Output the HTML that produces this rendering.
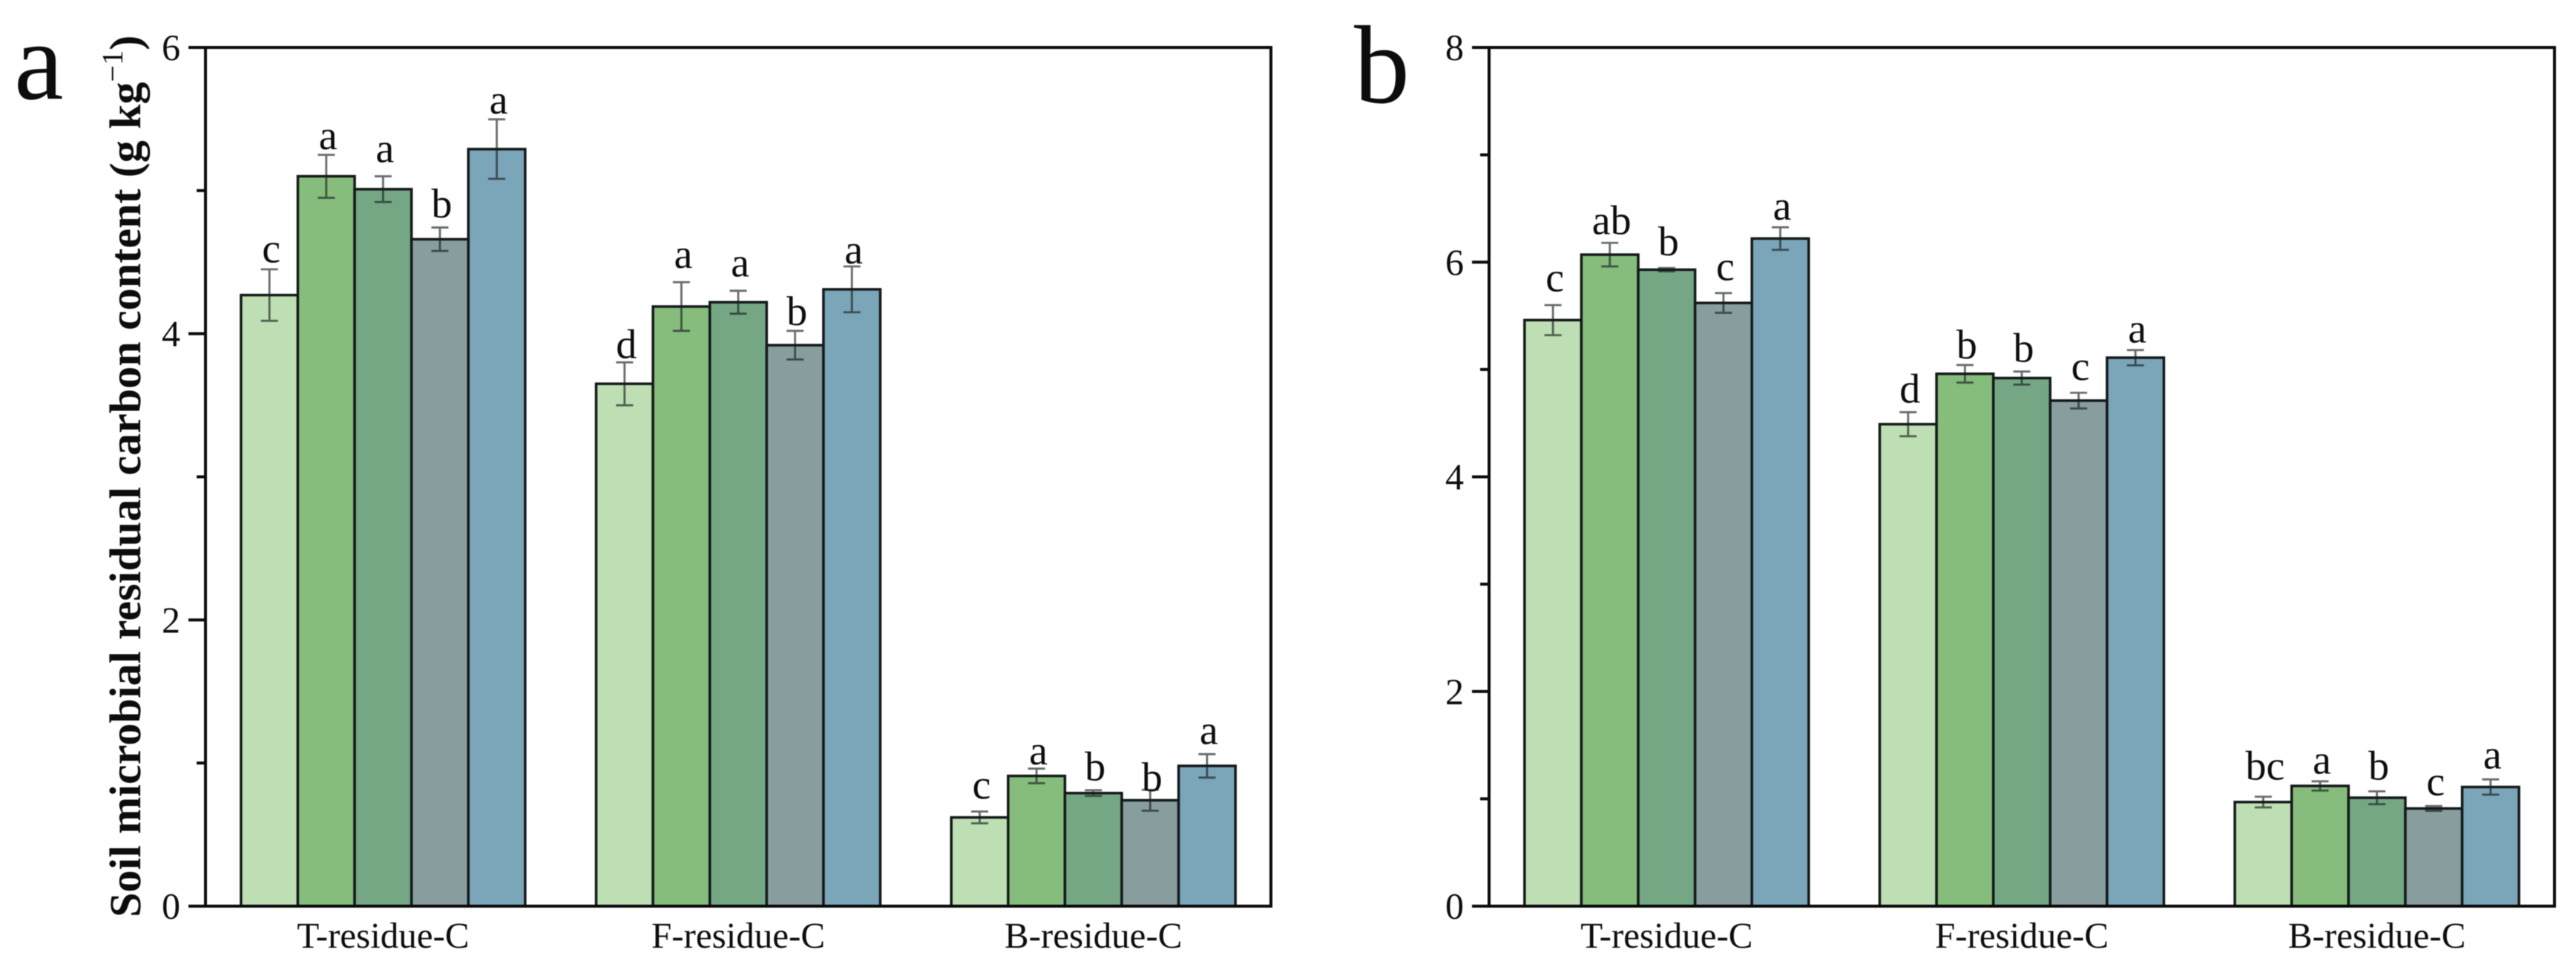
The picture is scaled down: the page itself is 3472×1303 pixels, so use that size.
<!DOCTYPE html>
<html lang="en">
<head>
<meta charset="utf-8">
<title>Soil microbial residual carbon content</title>
<style>
html,body{margin:0;padding:0;background:#fff;}
body{width:3472px;height:1303px;overflow:hidden;}
svg{display:block;filter:blur(0.6px);}
text{font-family:"Liberation Serif","Times New Roman",serif;fill:#0c0c0c;text-rendering:geometricPrecision;}
</style>
</head>
<body>
<svg id="figure" xmlns="http://www.w3.org/2000/svg" width="3472" height="1303" viewBox="0 0 3472 1303">
  <rect x="0" y="0" width="3472" height="1303" fill="#ffffff"/>
  <text x="19" y="133" font-size="150">a</text>
  <text x="1825" y="138" font-size="150">b</text>
  <text transform="translate(189,1236) rotate(-90)" font-size="60" font-weight="700" letter-spacing="0.1">Soil microbial residual carbon content (g kg<tspan dy="-24" font-size="40" font-weight="400">−1</tspan><tspan dy="24">)</tspan></text>
</svg>
<script>
// Shared categories and tick labels
const categories = ['T-residue-C', 'F-residue-C', 'B-residue-C'];

// Panel a: one row per category, one entry per treatment
const valuesA = [
  [4.27, 5.10, 5.01, 4.66, 5.29],
  [3.65, 4.19, 4.22, 3.92, 4.31],
  [0.62, 0.91, 0.79, 0.74, 0.98]
];
const errorsA = [
  [0.18, 0.15, 0.09, 0.082, 0.208],
  [0.15, 0.17, 0.08, 0.10, 0.16],
  [0.041, 0.051, 0.02, 0.073, 0.082]
];
const lettersA = [
  ['c', 'a', 'a', 'b', 'a'],
  ['d', 'a', 'a', 'b', 'a'],
  ['c', 'a', 'b', 'b', 'a']
];
// Clearance between error cap and letter, in y-axis units
const letterPadA = [
  [0.05, 0.04, 0.10, 0.07, 0.04],
  [0.03, 0.10, 0.10, 0.04, 0.02],
  [0.09, 0.03, 0.07, -0.01, 0.07]
];
const majorTicksA = [0, 2, 4, 6];
const minorTicksA = [1, 3, 5];

// Panel b
const valuesB = [
  [5.46, 6.07, 5.93, 5.62, 6.22],
  [4.49, 4.96, 4.92, 4.71, 5.11],
  [0.97, 1.12, 1.01, 0.91, 1.11]
];
const errorsB = [
  [0.14, 0.11, 0.015, 0.092, 0.105],
  [0.112, 0.082, 0.061, 0.073, 0.071],
  [0.05, 0.043, 0.06, 0.022, 0.071]
];
const lettersB = [
  ['c', 'ab', 'b', 'c', 'a'],
  ['d', 'b', 'b', 'c', 'a'],
  ['bc', 'a', 'b', 'c', 'a']
];
const letterPadB = [
  [0.13, 0.08, 0.12, 0.12, 0.07],
  [0.09, 0.06, 0.09, 0.12, 0.07],
  [0.16, 0.07, 0.11, 0.10, 0.10]
];
const majorTicksB = [0, 2, 4, 6, 8];
const minorTicksB = [1, 3, 5, 7];

const palette = ['#BDDFB3', '#86BC7C', '#75A785', '#879D9E', '#7BA5B8'];

const SVG_NS = 'http://www.w3.org/2000/svg';
const figure = document.getElementById('figure');

function make(tag, parent, props) {
  const el = document.createElementNS(SVG_NS, tag);
  for (const key in props) el.setAttribute(key, props[key]);
  parent.appendChild(el);
  return el;
}

function drawPanel(id, left, yMax, values, errors, letters, pads, majorTicks, minorTicks) {
  const right = left + 1436;
  const top = 64;
  const bottom = 1221;
  const barWidth = 76.6;
  const capHalf = 11.5;
  const groupPitch = (right - left) / categories.length;
  const y = function (v) { return bottom - (v / yMax) * (bottom - top); };
  const groupCenter = function (g) { return left + (g + 0.5) * groupPitch; };
  const barLeft = function (g, s) { return groupCenter(g) + (s - values[g].length / 2) * barWidth; };

  const panel = make('g', figure, {});
  
  

  values.forEach(function (row, g) {
    row.forEach(function (v, s) {
      const bar = make('rect', panel, {
        x: barLeft(g, s), y: y(v), width: barWidth, height: bottom - y(v),
        fill: palette[s], stroke: '#141919', 'stroke-width': 3.5
      });
      
      
    });
  });

  values.forEach(function (row, g) {
    row.forEach(function (v, s) {
      const cx = barLeft(g, s) + barWidth / 2;
      const hi = y(v + errors[g][s]);
      const lo = y(v - errors[g][s]);
      const err = make('path', panel, {
        d: 'M' + cx + ' ' + hi + 'V' + lo +
           'M' + (cx - capHalf) + ' ' + hi + 'H' + (cx + capHalf) +
           'M' + (cx - capHalf) + ' ' + lo + 'H' + (cx + capHalf),
        fill: 'none', stroke: 'rgba(25,30,30,0.66)', 'stroke-width': 2.8
      });
      
      

      const letter = make('text', panel, {
        x: cx + 2.5, y: y(v + errors[g][s] + pads[g][s]),
        'font-size': 56, 'text-anchor': 'middle'
      });
      letter.textContent = letters[g][s];
      
      
    });
  });

  const frame = make('rect', panel, {
    x: left, y: top, width: right - left, height: bottom - top,
    fill: 'none', stroke: '#0a0a0a', 'stroke-width': 4
  });
  
  

  majorTicks.forEach(function (t) {
    const tick = make('line', panel, {
      x1: left - 23, x2: left, y1: y(t), y2: y(t), stroke: '#0a0a0a', 'stroke-width': 4
    });
    
    

    const label = make('text', panel, {
      x: left - 34, y: y(t) + 17, 'font-size': 50, 'text-anchor': 'end'
    });
    label.textContent = String(t);
    
    
  });

  minorTicks.forEach(function (t) {
    const tick = make('line', panel, {
      x1: left - 12, x2: left, y1: y(t), y2: y(t), stroke: '#0a0a0a', 'stroke-width': 4
    });
    
    
  });

  categories.forEach(function (name, g) {
    const label = make('text', panel, {
      x: groupCenter(g), y: 1277, 'font-size': 49, 'text-anchor': 'middle'
    });
    label.textContent = name;
    
    
  });
}

drawPanel('a', 277, 6, valuesA, errorsA, lettersA, letterPadA, majorTicksA, minorTicksA);
drawPanel('b', 2007, 8, valuesB, errorsB, lettersB, letterPadB, majorTicksB, minorTicksB);
</script>
</body>
</html>
